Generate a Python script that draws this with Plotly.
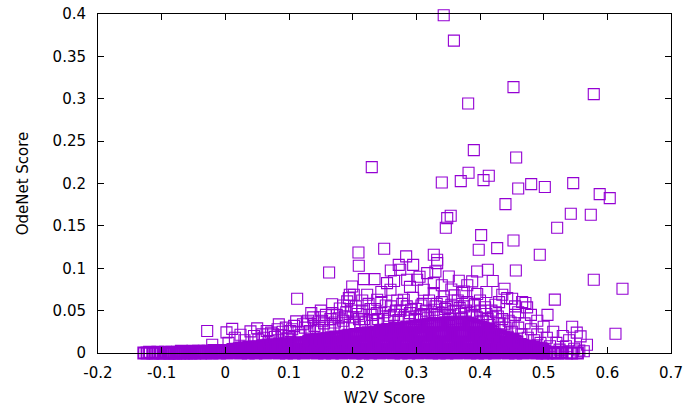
import plotly.graph_objects as go

# ---- dense near-zero band (estimated from the solid purple band) ----
band0_x = [
    -0.128, -0.123, -0.119, -0.114, -0.110, -0.106, -0.102, -0.098, -0.094, -0.090,
    -0.087, -0.084, -0.081, -0.078, -0.075, -0.072, -0.069, -0.066, -0.063, -0.060,
    -0.057, -0.054, -0.051, -0.048, -0.045, -0.042, -0.039, -0.036, -0.033, -0.030,
    -0.027, -0.024, -0.021, -0.018, -0.015, -0.012, -0.009, -0.006, -0.003, 0.000,
    0.003, 0.006, 0.009, 0.012, 0.015, 0.018, 0.021, 0.024, 0.027, 0.030,
    0.033, 0.036, 0.039, 0.042, 0.045, 0.048, 0.051, 0.054, 0.057, 0.060,
    0.063, 0.066, 0.069, 0.072, 0.075, 0.078, 0.081, 0.084, 0.087, 0.090,
    0.093, 0.096, 0.099, 0.102, 0.105, 0.108, 0.111, 0.114, 0.117, 0.120,
    0.123, 0.126, 0.129, 0.132, 0.135, 0.138, 0.141, 0.144, 0.147, 0.150,
    0.153, 0.156, 0.159, 0.162, 0.165, 0.168, 0.171, 0.174, 0.177, 0.180,
    0.183, 0.186, 0.189, 0.192, 0.195, 0.198, 0.201, 0.204, 0.207, 0.210,
    0.213, 0.216, 0.219, 0.222, 0.225, 0.228, 0.231, 0.234, 0.237, 0.240,
    0.243, 0.246, 0.249, 0.252, 0.255, 0.258, 0.261, 0.264, 0.267, 0.270,
    0.273, 0.276, 0.279, 0.282, 0.285, 0.288, 0.291, 0.294, 0.297, 0.300,
    0.303, 0.306, 0.309, 0.312, 0.315, 0.318, 0.321, 0.324, 0.327, 0.330,
    0.333, 0.336, 0.339, 0.342, 0.345, 0.348, 0.351, 0.354, 0.357, 0.360,
    0.363, 0.366, 0.369, 0.372, 0.375, 0.378, 0.381, 0.384, 0.387, 0.390,
    0.393, 0.396, 0.399, 0.402, 0.405, 0.408, 0.411, 0.414, 0.417, 0.420,
    0.423, 0.426, 0.429, 0.432, 0.435, 0.438, 0.441, 0.444, 0.447, 0.450,
    0.453, 0.456, 0.459, 0.462, 0.465, 0.468, 0.471, 0.474, 0.477, 0.480,
    0.483, 0.486, 0.489, 0.492, 0.495, 0.498, 0.501, 0.505, 0.510, 0.516,
    0.522, 0.529, 0.536, 0.544, 0.553,
]
band0_y = [
    0, 0, 0.001, 0, 0, 0.001, 0, 0, 0.001, 0,
    0, 0.001, 0, 0, 0.001, 0, 0.002, 0, 0.001, 0,
    0.001, 0, 0.002, 0, 0.001, 0.002, 0, 0.001, 0.002, 0,
    0.002, 0.001, 0, 0.003, 0.001, 0.002, 0, 0.003, 0.001, 0.002,
    0, 0.003, 0.001, 0.004, 0.002, 0.001, 0.003, 0, 0.004, 0.002,
    0.002, 0, 0.004, 0.001, 0.003, 0, 0.002, 0.004, 0.001, 0.003,
    0, 0.003, 0.001, 0.004, 0.002, 0.001, 0.003, 0, 0.004, 0.002,
    0.002, 0, 0.004, 0.001, 0.003, 0, 0.002, 0.004, 0.001, 0.003,
    0, 0.003, 0.001, 0.004, 0.002, 0.001, 0.003, 0, 0.004, 0.002,
    0.002, 0, 0.004, 0.001, 0.003, 0, 0.002, 0.004, 0.001, 0.003,
    0, 0.003, 0.001, 0.004, 0.002, 0.001, 0.003, 0, 0.004, 0.002,
    0.002, 0, 0.004, 0.001, 0.003, 0, 0.002, 0.004, 0.001, 0.003,
    0, 0.003, 0.001, 0.004, 0.002, 0.001, 0.003, 0, 0.004, 0.002,
    0.002, 0, 0.004, 0.001, 0.003, 0, 0.002, 0.004, 0.001, 0.003,
    0, 0.003, 0.001, 0.004, 0.002, 0.001, 0.003, 0, 0.004, 0.002,
    0.002, 0, 0.004, 0.001, 0.003, 0, 0.002, 0.004, 0.001, 0.003,
    0, 0.003, 0.001, 0.004, 0.002, 0.001, 0.003, 0, 0.004, 0.002,
    0.002, 0, 0.004, 0.001, 0.003, 0, 0.002, 0.004, 0.001, 0.003,
    0, 0.003, 0.001, 0.004, 0.002, 0.001, 0.003, 0, 0.004, 0.002,
    0.002, 0, 0.004, 0.001, 0.003, 0, 0.002, 0.004, 0.001, 0.003,
    0.001, 0.003, 0, 0.002, 0.001, 0, 0.002, 0, 0.001, 0,
    0, 0.001, 0, 0, 0,
]

band1_x = [
    0.022, 0.025, 0.028, 0.031, 0.034, 0.037, 0.040, 0.043, 0.046, 0.049,
    0.052, 0.055, 0.058, 0.061, 0.064, 0.067, 0.070, 0.073, 0.076, 0.079,
    0.082, 0.085, 0.088, 0.091, 0.094, 0.097, 0.100, 0.103, 0.106, 0.109,
    0.112, 0.115, 0.118, 0.121, 0.124, 0.127, 0.130, 0.133, 0.136, 0.139,
    0.142, 0.145, 0.148, 0.151, 0.154, 0.157, 0.160, 0.163, 0.166, 0.169,
    0.172, 0.175, 0.178, 0.181, 0.184, 0.187, 0.190, 0.193, 0.196, 0.199,
    0.202, 0.205, 0.208, 0.211, 0.214, 0.217, 0.220, 0.223, 0.226, 0.229,
    0.232, 0.235, 0.238, 0.241, 0.244, 0.247, 0.250, 0.253, 0.256, 0.259,
    0.262, 0.265, 0.268, 0.271, 0.274, 0.277, 0.280, 0.283, 0.286, 0.289,
    0.292, 0.295, 0.298, 0.301, 0.304, 0.307, 0.310, 0.313, 0.316, 0.319,
    0.322, 0.325, 0.328, 0.331, 0.334, 0.337, 0.340, 0.343, 0.346, 0.349,
    0.352, 0.355, 0.358, 0.361, 0.364, 0.367, 0.370, 0.373, 0.376, 0.379,
    0.382, 0.385, 0.388, 0.391, 0.394, 0.397, 0.400, 0.403, 0.406, 0.409,
    0.412, 0.415, 0.418, 0.421, 0.424, 0.427, 0.430, 0.433, 0.436, 0.439,
    0.442, 0.445, 0.448, 0.451, 0.454, 0.457, 0.460, 0.463, 0.466, 0.469,
    0.472, 0.475, 0.478, 0.481, 0.484, 0.487, 0.490, 0.493, 0.496, 0.499,
]
band1_y = [
    0.005, 0.006, 0.004, 0.006, 0.005, 0.007, 0.005, 0.006, 0.007, 0.006,
    0.007, 0.006, 0.008, 0.007, 0.008, 0.009, 0.007, 0.008, 0.009, 0.008,
    0.009, 0.010, 0.008, 0.010, 0.009, 0.011, 0.010, 0.009, 0.011, 0.010,
    0.011, 0.010, 0.012, 0.011, 0.010, 0.012, 0.011, 0.013, 0.010, 0.012,
    0.012, 0.010, 0.013, 0.011, 0.012, 0.010, 0.013, 0.011, 0.012, 0.011,
    0.011, 0.013, 0.010, 0.012, 0.011, 0.013, 0.012, 0.010, 0.012, 0.011,
    0.012, 0.010, 0.013, 0.011, 0.012, 0.010, 0.013, 0.011, 0.012, 0.011,
    0.011, 0.013, 0.010, 0.012, 0.011, 0.013, 0.012, 0.010, 0.012, 0.011,
    0.012, 0.010, 0.013, 0.011, 0.012, 0.010, 0.013, 0.011, 0.012, 0.011,
    0.011, 0.013, 0.010, 0.012, 0.011, 0.013, 0.012, 0.010, 0.012, 0.011,
    0.012, 0.010, 0.013, 0.011, 0.012, 0.010, 0.013, 0.011, 0.012, 0.011,
    0.011, 0.013, 0.010, 0.012, 0.011, 0.013, 0.012, 0.010, 0.012, 0.011,
    0.012, 0.010, 0.013, 0.011, 0.012, 0.010, 0.013, 0.011, 0.012, 0.011,
    0.011, 0.013, 0.010, 0.012, 0.011, 0.013, 0.012, 0.010, 0.012, 0.011,
    0.012, 0.011, 0.012, 0.010, 0.011, 0.010, 0.009, 0.010, 0.009, 0.008,
    0.008, 0.007, 0.008, 0.006, 0.007, 0.005, 0.006, 0.004, 0.005, 0.004,
]

band2_x = [
    0.131, 0.134, 0.137, 0.140, 0.143, 0.146, 0.149, 0.152, 0.155, 0.158,
    0.161, 0.164, 0.167, 0.170, 0.173, 0.176, 0.179, 0.182, 0.185, 0.188,
    0.191, 0.194, 0.197, 0.200, 0.203, 0.206, 0.209, 0.212, 0.215, 0.218,
    0.221, 0.224, 0.227, 0.230, 0.233, 0.236, 0.239, 0.242, 0.245, 0.248,
    0.251, 0.254, 0.257, 0.260, 0.263, 0.266, 0.269, 0.272, 0.275, 0.278,
    0.281, 0.284, 0.287, 0.290, 0.293, 0.296, 0.299, 0.302, 0.305, 0.308,
    0.311, 0.314, 0.317, 0.320, 0.323, 0.326, 0.329, 0.332, 0.335, 0.338,
    0.341, 0.344, 0.347, 0.350, 0.353, 0.356, 0.359, 0.362, 0.365, 0.368,
    0.371, 0.374, 0.377, 0.380, 0.383, 0.386, 0.389, 0.392, 0.395, 0.398,
    0.401, 0.404, 0.407, 0.410, 0.413, 0.416, 0.419, 0.422, 0.425, 0.428,
    0.431, 0.434, 0.437, 0.440, 0.443, 0.446, 0.449, 0.452, 0.455, 0.458,
]
band2_y = [
    0.014, 0.015, 0.013, 0.015, 0.016, 0.014, 0.016, 0.015, 0.017, 0.016,
    0.017, 0.016, 0.018, 0.017, 0.019, 0.018, 0.017, 0.019, 0.018, 0.020,
    0.019, 0.021, 0.020, 0.019, 0.021, 0.022, 0.020, 0.021, 0.023, 0.021,
    0.022, 0.024, 0.021, 0.023, 0.022, 0.024, 0.021, 0.023, 0.022, 0.024,
    0.023, 0.021, 0.024, 0.022, 0.023, 0.021, 0.024, 0.022, 0.023, 0.022,
    0.022, 0.024, 0.021, 0.023, 0.022, 0.024, 0.021, 0.023, 0.022, 0.024,
    0.023, 0.021, 0.024, 0.022, 0.023, 0.021, 0.024, 0.022, 0.023, 0.022,
    0.022, 0.024, 0.021, 0.023, 0.022, 0.024, 0.021, 0.023, 0.022, 0.024,
    0.023, 0.021, 0.024, 0.022, 0.023, 0.021, 0.024, 0.022, 0.023, 0.022,
    0.023, 0.022, 0.024, 0.021, 0.023, 0.022, 0.020, 0.022, 0.021, 0.019,
    0.020, 0.018, 0.019, 0.017, 0.018, 0.016, 0.015, 0.016, 0.014, 0.013,
]

band3_x = [
    0.243, 0.246, 0.249, 0.252, 0.255, 0.258, 0.261, 0.264, 0.267, 0.270,
    0.273, 0.276, 0.279, 0.282, 0.285, 0.288, 0.291, 0.294, 0.297, 0.300,
    0.303, 0.306, 0.309, 0.312, 0.315, 0.318, 0.321, 0.324, 0.327, 0.330,
    0.333, 0.336, 0.339, 0.342, 0.345, 0.348, 0.351, 0.354, 0.357, 0.360,
    0.363, 0.366, 0.369, 0.372, 0.375, 0.378, 0.381, 0.384, 0.387, 0.390,
    0.393, 0.396, 0.399, 0.402, 0.405, 0.408, 0.411, 0.414, 0.417, 0.420,
]
band3_y = [
    0.026, 0.027, 0.025, 0.027, 0.028, 0.026, 0.028, 0.027, 0.029, 0.028,
    0.029, 0.028, 0.030, 0.029, 0.031, 0.030, 0.029, 0.031, 0.030, 0.032,
    0.031, 0.033, 0.032, 0.031, 0.033, 0.034, 0.032, 0.033, 0.035, 0.033,
    0.034, 0.033, 0.035, 0.034, 0.036, 0.035, 0.034, 0.036, 0.035, 0.034,
    0.035, 0.034, 0.036, 0.035, 0.034, 0.036, 0.035, 0.033, 0.034, 0.033,
    0.032, 0.031, 0.030, 0.031, 0.029, 0.028, 0.027, 0.028, 0.026, 0.025,
]

# ---- scattered points above the dense band (y < 0.1) ----
mid_x = [
    -0.0285, 0.0018, 0.0108, -0.0206, 0.0238, 0.0395, 0.050, 0.084, 0.1113, 0.122,
    0.1495, 0.158, 0.1128, 0.1678, 0.1798, 0.194, 0.1993, 0.1955, 0.2018, 0.1914,
    0.2228, 0.2385, 0.2594, 0.2803, 0.3117, 0.3274, 0.3431, 0.3013, 0.254, 0.2856,
    0.3274, 0.3745, 0.3667, 0.3877, 0.4385, 0.435, 0.4505, 0.4662, 0.474, 0.4243,
    0.3956, 0.372, 0.4427, 0.4714, 0.5175, 0.500, 0.5448, 0.558, 0.568, 0.563,
    0.2343, 0.2175, 0.351, 0.3955, 0.317, 0.2599, 0.2747, 0.163, 0.4123, 0.4563,
    0.330, 0.5787, 0.6238, 0.6128, 0.506, 0.005, 0.015, 0.030, 0.045, 0.060,
    0.065, 0.075, 0.090, 0.095, 0.100, 0.105, 0.115, 0.125, 0.130, 0.140,
    0.145, 0.155, 0.165, 0.170, 0.175, 0.185, 0.190, 0.195, 0.200, 0.205,
    0.210, 0.215, 0.220, 0.225, 0.230, 0.235, 0.240, 0.245, 0.250, 0.255,
    0.260, 0.265, 0.270, 0.275, 0.280, 0.285, 0.290, 0.295, 0.300, 0.305,
    0.310, 0.315, 0.320, 0.325, 0.330, 0.335, 0.340, 0.345, 0.350, 0.355,
    0.360, 0.365, 0.370, 0.375, 0.380, 0.385, 0.390, 0.395, 0.400, 0.405,
    0.410, 0.415, 0.420, 0.425, 0.430, 0.435, 0.440, 0.445, 0.450, 0.455,
    0.460, 0.465, 0.470, 0.475, 0.480, 0.485, 0.490, 0.495, 0.505, 0.510,
    0.515, 0.520, 0.525, 0.530, 0.535, 0.540, 0.548, 0.552, 0.556, 0.542,
    0.265, 0.305, 0.340, 0.355, 0.380, 0.410, 0.420, 0.360, 0.290, 0.245,
    0.215, 0.185, 0.150, 0.135, 0.400, 0.430, 0.455, 0.480, 0.490, 0.460,
]
mid_y = [
    0.026, 0.0243, 0.0285, 0.0098, 0.0216, 0.0255, 0.029, 0.0338, 0.0373, 0.034,
    0.0422, 0.045, 0.064, 0.0575, 0.0525, 0.0648, 0.0785, 0.0687, 0.0687, 0.0609,
    0.0687, 0.0629, 0.0746, 0.0629, 0.0746, 0.0708, 0.0667, 0.0864, 0.0825, 0.0864,
    0.0825, 0.0726, 0.0853, 0.0845, 0.0758, 0.0687, 0.064, 0.0601, 0.0538, 0.057,
    0.0696, 0.0708, 0.0648, 0.059, 0.063, 0.031, 0.031, 0.0196, 0.0098, 0.002,
    0.0872, 0.0872, 0.0903, 0.0962, 0.0943, 0.0974, 0.0982, 0.095, 0.0982, 0.0974,
    0.0962, 0.0864, 0.0758, 0.0228, 0.045, 0.012, 0.018, 0.015, 0.020, 0.018,
    0.026, 0.022, 0.025, 0.030, 0.020, 0.028, 0.025, 0.030, 0.038, 0.032,
    0.027, 0.035, 0.040, 0.030, 0.045, 0.038, 0.048, 0.033, 0.042, 0.055,
    0.040, 0.050, 0.036, 0.058, 0.045, 0.052, 0.040, 0.060, 0.048, 0.038,
    0.055, 0.045, 0.062, 0.050, 0.042, 0.055, 0.047, 0.065, 0.052, 0.044,
    0.058, 0.050, 0.062, 0.046, 0.055, 0.048, 0.060, 0.052, 0.045, 0.057,
    0.050, 0.062, 0.046, 0.055, 0.060, 0.048, 0.056, 0.042, 0.050, 0.038,
    0.046, 0.033, 0.042, 0.048, 0.035, 0.040, 0.030, 0.038, 0.025, 0.045,
    0.030, 0.022, 0.035, 0.018, 0.028, 0.015, 0.022, 0.012, 0.018, 0.008,
    0.025, 0.012, 0.004, 0.020, 0.008, 0.015, 0.005, 0.024, 0.003, 0.000,
    0.085, 0.090, 0.080, 0.075, 0.080, 0.072, 0.085, 0.068, 0.078, 0.072,
    0.062, 0.056, 0.050, 0.047, 0.062, 0.060, 0.055, 0.045, 0.038, 0.048,
]

# ---- more scattered points in the crowded 0.02-0.06 zone ----
mid2_x = [
    0.052, 0.058, 0.068, 0.072, 0.078, 0.082, 0.088, 0.098, 0.102, 0.108,
    0.118, 0.128, 0.133, 0.138, 0.148, 0.152, 0.162, 0.168, 0.172, 0.178,
    0.182, 0.188, 0.198, 0.203, 0.208, 0.212, 0.218, 0.228, 0.232, 0.238,
    0.248, 0.252, 0.258, 0.268, 0.272, 0.278, 0.288, 0.292, 0.298, 0.308,
    0.312, 0.318, 0.328, 0.332, 0.338, 0.348, 0.352, 0.358, 0.368, 0.372,
    0.378, 0.388, 0.392, 0.398, 0.408, 0.412, 0.418, 0.428, 0.438, 0.448,
]
mid2_y = [
    0.016, 0.022, 0.014, 0.024, 0.019, 0.028, 0.021, 0.017, 0.026, 0.032,
    0.021, 0.036, 0.026, 0.042, 0.030, 0.038, 0.027, 0.047, 0.036, 0.041,
    0.030, 0.043, 0.050, 0.035, 0.046, 0.031, 0.040, 0.052, 0.038, 0.047,
    0.040, 0.056, 0.044, 0.050, 0.039, 0.058, 0.043, 0.051, 0.040, 0.056,
    0.046, 0.041, 0.051, 0.058, 0.043, 0.054, 0.040, 0.049, 0.053, 0.041,
    0.050, 0.044, 0.058, 0.036, 0.054, 0.040, 0.050, 0.043, 0.034, 0.036,
]

# ---- sparse high points (y >= 0.1) ----
high_x = [
    0.343, 0.359, 0.4526, 0.5787, 0.3814, 0.3903, 0.4568, 0.230, 0.382, 0.4138,
    0.4055, 0.340, 0.3698, 0.460, 0.4804, 0.5018, 0.5464, 0.588, 0.6038, 0.440,
    0.354, 0.3485, 0.3463, 0.5426, 0.574, 0.4018, 0.5212, 0.398, 0.427, 0.4526,
    0.4939, 0.2091, 0.2495, 0.284, 0.3274, 0.3327, 0.2096, 0.2724, 0.295, 0.3327,
]
high_y = [
    0.3986, 0.3686, 0.3137, 0.3054, 0.2944, 0.2394, 0.2307, 0.2193, 0.2126, 0.2091,
    0.204, 0.2012, 0.2028, 0.1941, 0.1993, 0.1958, 0.2005, 0.1875, 0.1828, 0.1757,
    0.1619, 0.1592, 0.1478, 0.1643, 0.1631, 0.1391, 0.1478, 0.1218, 0.1238, 0.1328,
    0.1159, 0.1186, 0.123, 0.114, 0.1159, 0.110, 0.1029, 0.104, 0.104, 0.106,
]

x_ticks = [-0.2, -0.1, 0, 0.1, 0.2, 0.3, 0.4, 0.5, 0.6, 0.7]
x_tick_text = ["-0.2", "-0.1", "0", "0.1", "0.2", "0.3", "0.4", "0.5", "0.6", "0.7"]
y_ticks = [0, 0.05, 0.1, 0.15, 0.2, 0.25, 0.3, 0.35, 0.4]
y_tick_text = ["0", "0.05", "0.1", "0.15", "0.2", "0.25", "0.3", "0.35", "0.4"]

PURPLE = "#9400D3"

fig = go.Figure()
groups = [
    (band0_x, band0_y, 2.0), (band1_x, band1_y, 2.0), (band2_x, band2_y, 1.9),
    (band3_x, band3_y, 1.7), (mid_x, mid_y, 1.1), (mid2_x, mid2_y, 1.1),
    (high_x, high_y, 1.1),
]
for xs, ys, lw in groups:
    n = min(len(xs), len(ys))
    fig.add_trace(go.Scatter(
        x=xs[:n], y=ys[:n], mode="markers", cliponaxis=False, showlegend=False,
        hoverinfo="skip",
        marker=dict(symbol="square-open", size=11, color=PURPLE,
                    line=dict(width=lw, color=PURPLE)),
    ))

font = dict(family="DejaVu Sans", size=15, color="#000000")
axis_common = dict(
    showline=True, linecolor="#000000", linewidth=1, mirror="allticks",
    ticks="inside", ticklen=6, tickwidth=1, tickcolor="#000000",
    showgrid=False, zeroline=False, tickfont=font, automargin=False,
    ticklabeloverflow="allow",
)
fig.update_layout(
    width=698, height=411, autosize=False,
    margin=dict(l=98, r=27, t=14, b=58, pad=0),
    paper_bgcolor="white", plot_bgcolor="white",
    font=font, hovermode=False,
    xaxis=dict(range=[-0.2, 0.7], tickvals=x_ticks, ticktext=x_tick_text,
               title=dict(text="W2V Score", font=font, standoff=11),
               ticklabelstandoff=6, **axis_common),
    yaxis=dict(range=[0, 0.4], tickvals=y_ticks, ticktext=y_tick_text,
               title=dict(text="OdeNet Score", font=font, standoff=20),
               ticklabelstandoff=8, **axis_common),
)
# remove the default 8px page margin so the figure fills the window exactly
fig.write_html("out.html", config={"displayModeBar": False},
               post_script="document.body.style.margin='0';")
